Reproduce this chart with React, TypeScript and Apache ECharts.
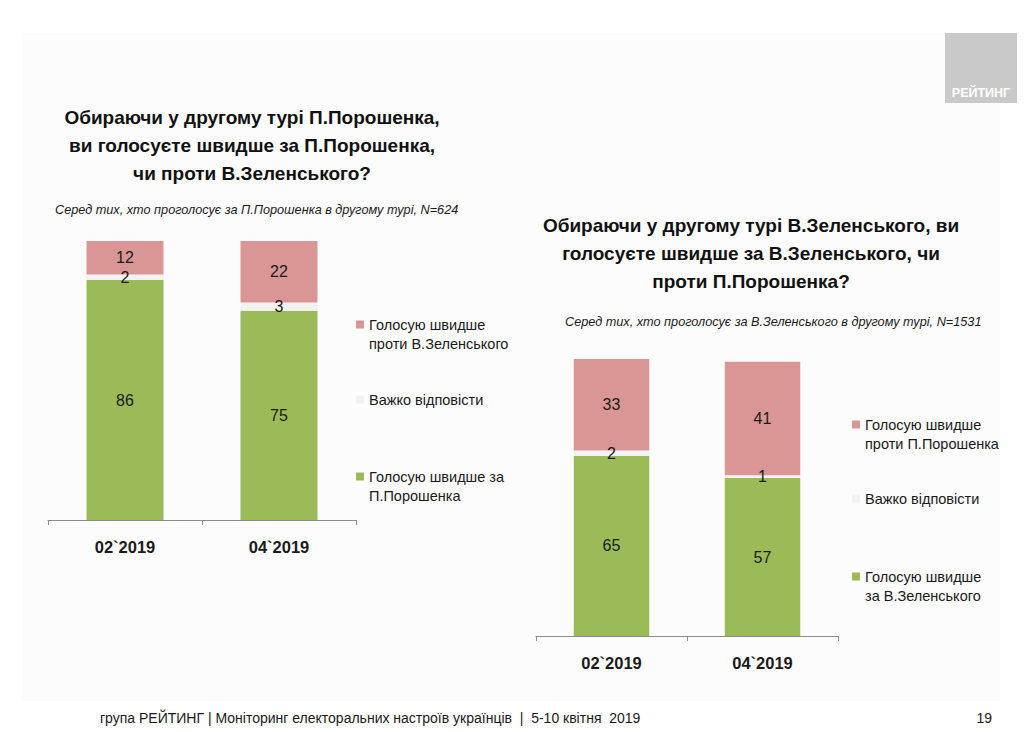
import React, { useEffect, useRef } from "react";
import * as echarts from "echarts";

const categories = ["02`2019", "04`2019"];

// Left chart: among Poroshenko voters
const leftForValues = [86, 75];
const leftDkValues = [2, 3];
const leftAgainstValues = [12, 22];

// Right chart: among Zelensky voters
const rightForValues = [65, 57];
const rightDkValues = [2, 1];
const rightAgainstValues = [33, 41];

const L_FOR = "Голосую швидше за П.Порошенка";
const L_AGAINST = "Голосую швидше проти В.Зеленського";
const DK = "Важко відповісти";
const R_FOR = "Голосую швидше за В.Зеленського";
const R_AGAINST = "Голосую швидше проти П.Порошенка";

const legendLabels: Record<string, string> = {
  [L_FOR]: "Голосую швидше за\nП.Порошенка",
  [L_AGAINST]: "Голосую швидше\nпроти В.Зеленського",
  [DK]: "Важко відповісти",
  [R_FOR]: "Голосую швидше\nза В.Зеленського",
  [R_AGAINST]: "Голосую швидше\nпроти П.Порошенка",
};

const GREEN = "#9BBB59";
const PINK = "#D99694";
const LIGHT = "#F2F2F2";
const FONT = "'Liberation Sans', Arial, sans-serif";
const NARROW = "'Liberation Sans Narrow', 'Arial Narrow', 'Liberation Sans', sans-serif";

export default function App() {
  const ref = useRef<HTMLDivElement>(null);

  useEffect(() => {
    if (!ref.current) return;
    const chart = echarts.init(ref.current, null, { renderer: "svg" });

    const tallIcon = "path://M0,0L8,0L8,8L0,8Z M0,27L0.01,27";

    const label = {
      show: true,
      position: "inside",
      fontSize: 16,
      color: "#1a1a1a",
      fontFamily: FONT,
    };

    const mkSeries = (name: string, data: number[], color: string, idx: number) => ({
      type: "bar",
      name,
      data,
      stack: "s" + idx,
      xAxisIndex: idx,
      yAxisIndex: idx,
      barWidth: "50%",
      itemStyle: { color },
      label,
    });

    const legendText = { fontSize: 14.5, color: "#1a1a1a", fontFamily: FONT, lineHeight: 19 };
    const mkLegend = (name: string, left: number, top: number, tall: boolean) => ({
      data: [name],
      orient: "vertical",
      left,
      top,
      padding: 0,
      itemWidth: 8,
      itemHeight: tall ? 27 : 8,
      icon: tall ? tallIcon : "rect",
      textStyle: legendText,
      formatter: (n: string) => legendLabels[n] || n,
    });

    const xAxisCommon = {
      type: "category",
      data: categories,
      axisLine: { lineStyle: { color: "#8c8c8c", width: 1 } },
      axisTick: { show: true, length: 5, lineStyle: { color: "#8c8c8c" } },
      axisLabel: {
        fontSize: 16.5,
        fontWeight: "bold",
        color: "#1a1a1a",
        fontFamily: FONT,
        margin: 18,
      },
    };
    const yAxisCommon = { type: "value", min: 0, max: 100, show: false };

    const option = {
      animation: false,
      backgroundColor: "#ffffff",
      grid: [
        { left: 48, width: 308, top: 241, height: 279 },
        { left: 536, width: 302, top: 359, height: 277 },
      ],
      xAxis: [
        { ...xAxisCommon, gridIndex: 0 },
        { ...xAxisCommon, gridIndex: 1 },
      ],
      yAxis: [
        { ...yAxisCommon, gridIndex: 0 },
        { ...yAxisCommon, gridIndex: 1 },
      ],
      legend: [
        mkLegend(L_AGAINST, 356, 315, true),
        mkLegend(DK, 356, 390, false),
        mkLegend(L_FOR, 356, 467, true),
        mkLegend(R_AGAINST, 852, 415, true),
        mkLegend(DK, 852, 489, false),
        mkLegend(R_FOR, 852, 567, true),
      ],
      series: [
        mkSeries(L_FOR, leftForValues, GREEN, 0),
        mkSeries(DK, leftDkValues, LIGHT, 0),
        mkSeries(L_AGAINST, leftAgainstValues, PINK, 0),
        mkSeries(R_FOR, rightForValues, GREEN, 1),
        mkSeries(DK, rightDkValues, LIGHT, 1),
        mkSeries(R_AGAINST, rightAgainstValues, PINK, 1),
      ],
      graphic: [
        {
          type: "rect",
          silent: true,
          z: -10,
          shape: { x: 22, y: 33, width: 978, height: 668 },
          style: { fill: "#fcfcfc" },
        },
        {
          type: "rect",
          shape: { x: 945, y: 33, width: 72, height: 70 },
          style: { fill: "#c9c9c9" },
        },
        {
          type: "text",
          x: 981,
          y: 93,
          style: {
            text: "РЕЙТИНГ",
            fill: "#ffffff",
            font: "bold 12.5px " + NARROW,
            align: "center",
            verticalAlign: "middle",
          },
        },
        {
          type: "text",
          x: 252,
          y: 103,
          style: {
            text: "Обираючи у другому турі П.Порошенка,\nви голосуєте швидше за П.Порошенка,\nчи проти В.Зеленського?",
            fill: "#111111",
            fontSize: 19,
            fontWeight: "bold",
            fontFamily: FONT,
            lineHeight: 28,
            align: "center",
            verticalAlign: "top",
          },
        },
        {
          type: "text",
          x: 55,
          y: 210,
          style: {
            text: "Серед тих, хто проголосує за П.Порошенка в другому турі, N=624",
            fill: "#1a1a1a",
            fontSize: 12.7,
            fontStyle: "italic",
            fontFamily: FONT,
            align: "left",
            verticalAlign: "middle",
          },
        },
        {
          type: "text",
          x: 751,
          y: 211,
          style: {
            text: "Обираючи у другому турі В.Зеленського, ви\nголосуєте швидше за В.Зеленського, чи\nпроти П.Порошенка?",
            fill: "#111111",
            fontSize: 19,
            fontWeight: "bold",
            fontFamily: FONT,
            lineHeight: 28,
            align: "center",
            verticalAlign: "top",
          },
        },
        {
          type: "text",
          x: 565,
          y: 322,
          style: {
            text: "Серед тих, хто проголосує за В.Зеленського в другому турі, N=1531",
            fill: "#1a1a1a",
            fontSize: 12.7,
            fontStyle: "italic",
            fontFamily: FONT,
            align: "left",
            verticalAlign: "middle",
          },
        },
        {
          type: "text",
          x: 100,
          y: 718,
          style: {
            text: "група РЕЙТИНГ | Моніторинг електоральних настроїв українців  |  5-10 квітня  2019",
            fill: "#1a1a1a",
            fontSize: 14,
            fontFamily: NARROW,
            align: "left",
            verticalAlign: "middle",
          },
        },
        {
          type: "text",
          x: 992,
          y: 718,
          style: {
            text: "19",
            fill: "#1a1a1a",
            fontSize: 14,
            fontFamily: NARROW,
            align: "right",
            verticalAlign: "middle",
          },
        },
      ],
    };

    chart.setOption(option as any);
    return () => chart.dispose();
  }, []);

  return (
    <div
      ref={ref}
      style={{ position: "fixed", left: 0, top: 0, width: 1024, height: 732 }}
    />
  );
}
